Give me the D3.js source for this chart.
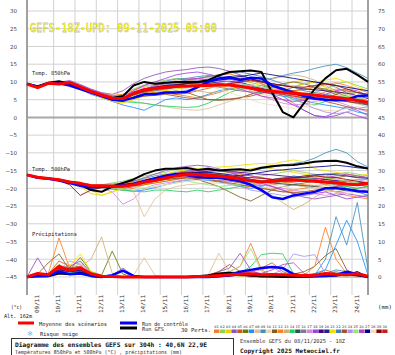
<!DOCTYPE html>
<html><head><meta charset="utf-8">
<script src="https://cdn.jsdelivr.net/npm/d3@7"></script>
<style>body{margin:0;background:#fff}svg{display:block}</style>
</head><body><svg id="chart" width="395" height="355"></svg>
<script>
// ---------------- DATA ----------------
const hours=[0,12,24,36,48,60,72,84,96,108,120,132,144,156,168,180,192,204,216,228,240,252,264,276,288,300,312,324,336,348,360,372,384];
const dates=["09/11","10/11","11/11","12/11","13/11","14/11","15/11","16/11","17/11","18/11","19/11","20/11","21/11","22/11","23/11","24/11"];
const dateHours=[6,30,54,78,102,126,150,174,198,222,246,270,294,318,342,366];
const gridHours=[30,54,78,102,126,150,174,198,222,246,270,294,318,342,366];
const leftTicks=[30,25,20,15,10,5,0,-5,-10,-15,-20,-25,-30,-35,-40,-45];
const rightTicks=[75,70,65,60,55,50,45,40,35,30,25,20,15,10,5,0];
const memberColors=["#f08030","#90d050","#f0d000","#9050c0","#c06010","#608000","#1e90ff","#e0c090","#4090c0","#e8d8b0","#806020","#ff8020","#d0b070","#20d060","#305050","#708090","#e080e0","#a040e0","#400080","#202090","#f0e000","#4682b4","#a0522d","#b090f0","#a0e080","#c040c0","#000090","#f0e0c0","#900000","#c02020"];

const mean850=[9.4,8.4,9.6,9.4,9.8,8.6,7.3,6.3,5.4,5.3,6.8,7.8,8.2,8.5,8.8,8.8,8.9,9.0,9.1,9.1,8.8,8.3,7.7,7.4,7.1,6.8,6.6,6.3,5.9,5.6,5.2,4.8,4.3];
const gfs850=[9.5,8.8,9.8,10.2,9.5,8.5,7.3,6.2,5.5,6.0,9.0,10.0,9.5,9.8,10.0,10.0,10.0,10.5,11.8,12.8,13.0,13.2,12.8,7.0,1.5,0.0,4.0,8.0,11.0,13.3,13.7,12.0,10.0];
const ctrl850=[9.5,8.6,9.6,9.6,9.0,8.0,7.0,6.0,5.0,4.8,5.5,6.5,6.5,7.0,7.0,7.2,8.5,10.0,11.0,11.3,10.5,11.2,11.0,9.0,8.0,7.0,6.0,5.3,5.0,4.8,5.0,6.0,6.2];
const mean500=[-16.2,-16.9,-17.2,-17.6,-18.2,-18.6,-19.3,-19.3,-19.4,-19.4,-19.0,-18.3,-17.8,-17.1,-16.5,-16.1,-16.2,-16.4,-16.6,-16.9,-17.4,-17.9,-18.2,-18.0,-17.7,-17.6,-17.8,-18.0,-18.2,-18.4,-18.8,-19.0,-18.6];
const gfs500=[-16.2,-17.0,-17.2,-17.6,-18.3,-19.0,-20.5,-21.0,-19.5,-18.5,-17.5,-16.0,-15.0,-14.5,-14.5,-14.3,-14.8,-14.5,-15.0,-14.8,-14.6,-15.0,-14.2,-13.8,-13.5,-13.4,-13.0,-12.5,-12.3,-12.2,-12.8,-13.8,-14.4];
const ctrl500=[-16.2,-17.0,-17.3,-17.8,-18.5,-19.3,-19.8,-19.5,-19.5,-19.2,-18.8,-18.0,-17.2,-16.5,-16.0,-16.3,-16.8,-17.0,-17.0,-17.5,-18.0,-19.0,-20.5,-22.5,-23.0,-22.0,-21.5,-21.0,-20.0,-20.0,-20.3,-20.8,-21.0];
const meanPrecip=[0,1.0,0.6,3.0,1.8,2.6,0.9,0.2,0.1,0,0,0,0,0,0,0,0.1,0.2,0.4,0.6,0.8,0.9,0.6,0.7,0.6,0.5,0.4,0.5,1.0,0.8,0.6,0.9,0.2];
const ctrlPrecip=[0,0.2,0.3,1.5,0.8,1.0,0.3,0,0.5,1.8,0.3,0,0,0,0,0,0,0,0.2,0.5,1.5,2.0,2.5,2.8,2.5,0.8,0.3,0.2,0.3,0.5,1.5,0.8,0];
const gfsPrecip=[0,0.3,0.2,1.0,0.8,1.2,0.3,0,0,0,0,0,0,0,0,0,0.2,0.5,1.0,1.2,0.8,0.5,0.3,0.2,0,0,0,0.2,0.3,0.5,0.8,0.5,0];

const perts850=[
[9.5,8.6,9.9,9.8,10.2,9.0,7.8,6.5,5.0,4.5,5.8,7.0,7.5,7.2,6.5,6.0,5.5,6.2,7.0,8.0,8.5,9.0,8.2,7.0,6.5,5.8,5.2,6.0,7.2,8.0,7.5,6.0,4.8],
[9.3,8.2,9.4,9.6,9.9,8.8,7.5,6.8,6.0,6.5,8.0,9.2,10.0,10.5,11.0,10.8,10.2,9.5,8.8,9.5,10.2,10.8,10.0,9.2,8.0,7.2,6.5,7.0,8.0,9.5,10.0,9.0,8.0],
[9.4,8.5,9.5,9.2,9.6,8.4,7.0,5.8,4.8,4.2,5.0,6.2,7.0,7.8,8.5,9.0,9.5,10.2,10.8,11.2,10.5,9.8,9.0,8.5,9.2,10.0,10.5,9.8,8.5,7.2,6.0,5.0,4.2],
[9.5,8.4,9.8,9.9,10.4,9.3,8.0,7.0,6.5,7.5,9.5,11.0,12.0,12.8,13.2,13.5,14.0,14.2,13.8,13.0,12.0,11.0,9.5,8.0,6.0,4.0,2.0,0.5,0.2,1.5,3.0,2.0,0.5],
[9.4,8.3,9.5,9.5,9.7,8.5,7.2,6.0,5.2,5.0,6.0,7.0,7.0,6.8,6.5,6.8,7.5,8.2,8.8,9.2,9.0,8.5,8.0,7.5,7.0,6.2,5.5,5.0,5.5,6.5,7.5,7.0,6.0],
[9.3,8.5,9.6,9.3,9.5,8.2,7.0,6.4,5.8,5.5,6.5,7.2,7.8,8.5,9.2,9.8,10.2,10.0,9.5,9.0,8.5,8.0,7.5,7.2,7.0,7.5,8.0,8.5,8.0,7.0,6.0,5.0,4.0],
[9.4,8.4,9.5,9.3,9.4,8.0,6.5,5.5,4.5,3.5,2.8,2.0,3.5,5.0,5.5,5.0,5.5,6.5,7.5,8.0,8.5,8.0,7.2,6.5,6.0,5.5,4.8,4.0,3.5,3.0,2.5,1.5,1.0],
[9.5,8.6,9.7,9.6,9.9,8.7,7.4,6.3,5.4,4.8,4.5,4.0,3.5,3.0,2.5,2.2,2.0,2.5,3.5,4.5,5.5,6.5,7.5,8.0,8.5,9.0,8.5,7.5,6.5,5.5,4.5,3.8,3.0],
[9.4,8.3,9.6,9.5,9.8,8.8,7.6,6.6,5.6,5.5,7.0,8.5,9.5,10.2,10.8,11.0,11.5,11.8,11.5,11.0,10.5,10.0,10.5,11.0,11.8,12.5,13.0,13.8,14.5,15.0,14.0,12.5,11.0],
[9.3,8.4,9.4,9.4,9.7,8.5,7.3,6.2,5.3,5.0,6.0,7.5,8.5,9.0,9.5,10.0,10.5,10.0,9.0,8.0,7.5,7.0,6.5,6.0,5.0,4.0,3.2,2.5,2.0,1.8,2.5,3.0,2.5],
[9.5,8.5,9.7,9.5,9.9,8.6,7.2,6.0,5.0,4.8,5.5,6.0,6.5,7.0,7.5,7.0,6.0,5.0,4.8,5.0,5.5,6.5,7.5,8.5,9.5,10.0,9.5,8.5,7.5,6.5,5.5,4.5,3.5],
[9.4,8.4,9.6,9.7,10.0,8.9,7.6,6.8,6.2,6.5,7.8,8.8,9.2,9.5,9.8,10.2,10.8,11.5,12.0,12.2,11.5,10.5,9.5,8.5,8.0,7.5,7.8,8.5,9.2,9.8,9.0,8.0,7.0],
[9.4,8.5,9.5,9.3,9.6,8.4,7.1,6.0,5.1,4.8,5.5,6.5,7.5,8.0,8.2,8.0,7.5,7.0,7.2,7.8,8.5,9.2,10.0,10.8,11.5,12.0,11.5,10.5,9.0,7.5,6.5,5.5,4.8],
[9.4,8.4,9.6,9.4,9.7,8.5,7.2,6.0,5.0,4.5,4.2,4.0,3.5,3.2,3.0,2.8,3.0,4.0,5.5,7.0,8.0,8.5,9.0,8.0,6.5,5.0,4.0,3.5,4.5,5.5,6.5,7.0,6.5],
[9.5,8.5,9.7,9.6,10.0,8.8,7.5,6.5,5.8,6.0,7.2,8.0,8.5,9.0,9.5,9.8,10.0,10.5,11.0,11.5,11.8,11.0,10.0,9.0,8.0,7.0,6.5,6.0,5.5,5.0,4.5,4.0,3.5],
[9.3,8.3,9.5,9.4,9.8,8.6,7.4,6.4,5.5,5.2,6.2,7.2,7.5,8.0,8.5,9.0,9.2,9.0,8.5,8.0,7.5,7.2,7.0,6.8,7.5,8.5,9.5,10.0,9.5,8.5,7.0,6.0,5.5],
[9.4,8.6,9.8,9.5,9.9,8.7,7.3,6.2,5.3,5.0,6.2,7.5,8.5,9.2,10.0,10.5,11.0,11.2,10.8,10.0,9.0,7.5,6.0,5.0,4.0,3.5,3.8,4.5,5.0,4.5,3.5,2.5,1.5],
[9.5,8.4,9.6,9.6,10.1,9.0,7.8,6.8,6.0,6.0,7.5,9.0,10.0,11.0,12.0,12.5,12.8,12.2,11.5,10.8,10.0,9.0,8.0,6.5,5.0,3.5,2.0,0.5,0.0,0.5,1.5,0.5,-0.5],
[9.4,8.5,9.5,9.3,9.5,8.3,7.0,5.8,4.8,4.5,5.8,7.0,8.0,8.8,9.2,9.5,9.8,10.2,10.5,10.8,11.0,10.8,10.2,9.5,9.0,8.5,8.0,7.8,7.5,7.2,6.8,6.0,5.2],
[9.4,8.4,9.6,9.5,9.8,8.6,7.3,6.3,5.4,5.3,6.5,7.5,8.0,8.2,8.5,8.8,9.0,9.5,10.0,10.2,9.8,9.0,8.2,7.5,7.0,6.5,6.0,5.8,5.5,5.2,5.0,4.5,4.0],
[9.3,8.3,9.4,9.2,9.5,8.3,6.8,5.5,4.5,4.0,5.0,6.0,6.8,7.5,8.0,8.5,9.0,9.2,9.0,8.5,8.0,7.8,7.5,7.5,8.0,8.8,9.5,10.0,10.5,11.0,10.0,8.5,7.5],
[9.5,8.6,9.7,9.6,10.0,8.8,7.4,6.4,5.5,5.6,7.0,8.0,8.8,9.5,10.0,10.5,11.0,11.5,12.0,12.5,12.8,12.2,11.5,10.5,9.5,8.5,7.5,7.0,6.5,6.0,5.5,5.2,5.0],
[9.4,8.4,9.5,9.4,9.8,8.5,7.2,6.2,5.2,4.8,5.5,6.0,6.2,6.5,6.0,5.5,5.2,5.0,5.0,5.2,5.5,6.0,6.8,7.5,8.0,7.5,6.5,5.5,4.5,3.8,3.0,2.5,2.0],
[9.4,8.5,9.6,9.5,9.9,8.7,7.4,6.4,5.6,5.4,6.5,7.8,8.5,9.0,9.5,10.0,10.5,10.8,10.5,10.0,9.5,9.0,8.5,8.0,7.0,5.5,4.0,2.5,1.5,1.0,1.5,2.5,3.0],
[9.3,8.4,9.5,9.4,9.7,8.5,7.2,6.2,5.3,5.0,6.0,7.0,7.8,8.5,9.0,9.0,8.8,8.5,8.8,9.2,9.5,9.0,8.5,8.0,7.5,7.0,6.5,6.0,5.5,5.5,6.0,5.5,5.0],
[9.5,8.5,9.7,9.6,10.0,8.8,7.5,6.5,5.5,5.5,6.8,8.0,9.0,9.8,10.5,10.8,11.0,10.5,9.8,9.0,8.0,7.0,6.0,5.5,5.0,4.5,4.8,5.5,6.5,7.5,8.0,7.5,6.0],
[9.4,8.4,9.5,9.4,9.8,8.6,7.3,6.2,5.2,5.0,6.5,7.8,8.5,9.0,9.2,9.5,9.8,10.0,10.5,11.0,11.5,12.0,12.5,12.0,11.5,11.0,10.5,10.0,9.5,9.0,8.5,8.0,7.5],
[9.4,8.5,9.6,9.5,9.9,8.7,7.4,6.5,5.7,5.8,7.0,8.5,9.5,10.0,10.5,10.0,9.5,9.0,8.0,7.0,6.0,5.0,4.0,3.5,3.0,2.5,3.0,4.0,5.0,6.0,6.5,6.0,5.0],
[9.5,8.4,9.6,9.5,9.8,8.6,7.3,6.3,5.4,5.2,6.5,7.5,8.0,8.5,9.0,9.5,9.5,9.2,9.0,9.5,10.0,10.5,10.0,9.5,9.0,8.5,8.5,9.0,9.5,9.0,8.0,7.0,6.5],
[9.4,8.5,9.6,9.4,9.7,8.5,7.2,6.2,5.3,5.1,6.3,7.2,7.8,8.2,8.5,8.8,9.0,9.2,9.5,9.2,8.8,8.0,7.2,6.8,6.5,6.0,5.5,5.2,5.0,4.8,4.5,4.2,3.8]
];
const perts500=[
[-16.2,-16.8,-17.0,-17.5,-18.0,-18.5,-19.0,-19.5,-20.0,-20.5,-20.0,-19.0,-18.0,-17.5,-17.0,-16.5,-16.8,-17.5,-18.0,-18.5,-19.0,-19.5,-20.0,-20.5,-21.0,-20.5,-20.0,-19.5,-20.0,-21.0,-22.0,-22.5,-23.0],
[-16.3,-17.0,-17.3,-17.8,-18.3,-18.8,-19.2,-19.0,-18.5,-18.0,-17.2,-16.5,-16.0,-15.5,-14.5,-14.0,-14.5,-15.5,-16.5,-17.0,-17.2,-17.0,-16.5,-16.0,-15.5,-15.0,-15.5,-16.0,-16.5,-16.0,-15.5,-16.0,-16.5],
[-16.1,-16.8,-17.2,-17.6,-18.5,-19.5,-21.5,-22.0,-21.0,-20.0,-19.5,-19.0,-18.5,-18.0,-17.5,-17.0,-16.8,-16.5,-16.0,-15.5,-15.0,-14.5,-14.0,-14.5,-15.0,-15.5,-16.0,-16.5,-17.0,-17.5,-18.0,-18.5,-18.0],
[-16.2,-17.0,-17.2,-17.8,-18.2,-18.6,-19.0,-19.2,-19.0,-18.5,-18.0,-17.0,-16.0,-15.0,-14.2,-13.8,-13.5,-13.8,-14.5,-15.5,-16.5,-17.5,-18.5,-19.5,-20.5,-21.5,-22.5,-23.0,-22.5,-22.0,-21.5,-22.0,-22.5],
[-16.2,-16.9,-17.3,-17.7,-18.3,-18.8,-19.5,-19.8,-20.0,-19.8,-19.5,-19.0,-18.5,-18.0,-17.5,-17.0,-17.2,-17.5,-17.8,-18.0,-18.5,-19.0,-19.2,-19.0,-18.5,-18.0,-17.5,-17.0,-17.5,-18.0,-18.5,-19.0,-19.5],
[-16.3,-17.0,-17.2,-17.5,-18.0,-18.5,-19.0,-19.5,-19.8,-20.0,-19.5,-18.5,-17.5,-16.8,-16.2,-15.8,-15.5,-15.8,-16.2,-16.8,-17.2,-17.5,-17.8,-18.0,-18.5,-19.0,-19.5,-20.0,-20.5,-21.0,-20.5,-20.0,-19.5],
[-16.2,-16.9,-17.1,-17.6,-18.2,-18.7,-19.4,-19.8,-20.2,-20.5,-20.8,-20.5,-19.8,-19.0,-18.2,-17.8,-17.5,-17.8,-18.2,-18.8,-19.5,-20.0,-19.5,-18.5,-17.5,-16.5,-17.0,-18.0,-19.0,-19.5,-20.0,-20.5,-21.0],
[-16.2,-16.8,-17.2,-17.6,-18.2,-18.6,-19.2,-19.5,-20.0,-20.5,-21.0,-28.0,-23.0,-20.5,-19.5,-19.0,-18.8,-18.5,-18.5,-18.8,-19.2,-19.5,-19.8,-20.0,-20.5,-21.0,-21.5,-21.0,-20.5,-20.0,-19.5,-20.0,-20.5],
[-16.2,-16.9,-17.2,-17.6,-18.1,-18.5,-19.0,-19.0,-18.8,-18.5,-18.0,-17.2,-16.5,-16.0,-15.5,-15.0,-15.2,-15.5,-15.8,-16.0,-15.5,-15.0,-14.5,-14.0,-13.5,-13.0,-12.5,-11.5,-10.0,-9.0,-10.0,-12.5,-14.0],
[-16.2,-16.9,-17.2,-17.6,-18.2,-18.6,-19.3,-19.4,-19.5,-19.6,-19.2,-18.5,-18.0,-17.5,-17.0,-16.8,-16.5,-16.2,-16.0,-15.8,-16.0,-16.5,-17.0,-17.8,-18.5,-19.0,-19.5,-20.0,-20.5,-21.0,-21.5,-21.0,-20.5],
[-16.3,-17.0,-17.3,-17.7,-18.2,-18.8,-19.3,-19.5,-19.6,-19.5,-19.0,-18.5,-18.0,-17.5,-17.2,-17.0,-17.5,-18.5,-19.5,-21.0,-22.5,-23.6,-22.0,-20.5,-19.5,-19.0,-18.5,-18.0,-17.5,-17.0,-16.5,-16.8,-17.0],
[-16.2,-16.8,-17.1,-17.5,-18.0,-18.5,-19.2,-19.2,-19.0,-18.8,-18.2,-17.5,-17.0,-16.5,-16.0,-15.5,-15.0,-14.8,-15.0,-15.5,-16.0,-16.5,-17.0,-17.5,-18.0,-18.5,-19.0,-19.2,-19.0,-18.5,-18.0,-17.5,-17.5],
[-16.2,-16.9,-17.2,-17.6,-18.2,-18.7,-19.3,-19.4,-19.4,-19.3,-19.0,-18.5,-18.0,-17.5,-17.0,-16.8,-17.0,-17.5,-18.0,-18.5,-19.0,-19.5,-20.5,-22.0,-24.0,-26.0,-24.5,-22.5,-21.0,-20.0,-19.5,-19.0,-18.5],
[-16.2,-17.0,-17.3,-17.8,-18.4,-19.0,-19.8,-20.0,-20.2,-20.5,-20.8,-21.0,-20.5,-20.5,-20.8,-21.0,-20.5,-21.0,-20.5,-20.0,-19.5,-19.0,-18.5,-18.0,-17.5,-17.0,-17.5,-18.0,-18.5,-19.0,-19.5,-20.0,-19.5],
[-16.2,-16.9,-17.2,-17.6,-18.2,-18.6,-19.3,-19.3,-19.2,-19.0,-18.5,-17.8,-17.2,-16.5,-16.0,-15.5,-15.8,-16.0,-16.2,-16.5,-17.0,-17.5,-18.0,-18.5,-18.8,-19.0,-19.2,-19.5,-19.8,-20.0,-20.2,-20.5,-21.0],
[-16.1,-16.8,-17.1,-17.5,-18.1,-18.5,-19.1,-19.2,-19.3,-19.2,-18.8,-18.2,-17.5,-17.0,-16.5,-16.2,-16.0,-16.2,-16.5,-17.0,-17.5,-18.0,-18.5,-18.5,-18.0,-17.5,-17.0,-16.5,-16.0,-15.8,-16.0,-16.5,-17.0],
[-16.2,-16.9,-17.2,-17.6,-18.2,-18.8,-19.5,-20.0,-21.0,-24.5,-23.0,-20.0,-19.0,-18.5,-18.0,-17.5,-17.0,-16.8,-17.0,-17.5,-18.0,-18.5,-19.0,-19.5,-20.0,-20.5,-21.0,-21.5,-22.0,-21.5,-21.0,-20.5,-21.0],
[-16.3,-17.0,-17.3,-17.7,-18.3,-18.8,-19.5,-19.6,-19.8,-20.0,-19.5,-18.5,-17.5,-16.8,-16.0,-15.5,-15.0,-14.8,-15.0,-15.5,-16.5,-17.5,-18.5,-19.5,-20.5,-21.5,-22.0,-21.5,-21.0,-22.0,-23.0,-22.5,-22.0],
[-16.2,-16.9,-17.2,-17.6,-18.2,-18.6,-19.2,-19.3,-19.3,-19.2,-18.8,-18.0,-17.2,-16.5,-16.0,-15.8,-15.5,-15.2,-15.0,-15.2,-15.5,-15.8,-16.0,-16.2,-16.5,-16.8,-17.0,-17.2,-17.5,-17.8,-18.0,-18.2,-18.5],
[-16.2,-16.8,-17.2,-17.6,-18.2,-18.6,-19.3,-19.3,-19.4,-19.3,-18.8,-18.0,-17.5,-16.8,-16.2,-15.8,-16.0,-16.2,-16.5,-16.8,-17.2,-17.8,-18.2,-18.0,-17.5,-17.0,-16.5,-16.2,-16.0,-16.2,-16.5,-17.0,-17.2],
[-16.2,-16.9,-17.2,-17.6,-18.3,-19.0,-20.5,-22.0,-21.0,-20.0,-19.0,-18.0,-17.0,-16.0,-15.2,-14.8,-14.5,-14.2,-14.0,-13.8,-13.5,-13.2,-13.0,-13.2,-12.5,-12.0,-12.5,-14.5,-15.0,-15.5,-16.0,-16.5,-16.0],
[-16.2,-16.9,-17.2,-17.6,-18.2,-18.7,-19.3,-19.5,-19.6,-19.5,-19.0,-18.2,-17.5,-17.0,-16.5,-16.0,-16.2,-16.5,-17.0,-17.5,-18.0,-18.2,-18.0,-17.5,-17.0,-16.8,-17.0,-17.5,-18.0,-19.0,-20.0,-21.0,-22.0],
[-16.2,-17.0,-17.3,-17.8,-18.4,-19.2,-20.0,-19.8,-19.5,-19.2,-18.8,-18.2,-17.8,-17.5,-17.2,-17.0,-17.2,-17.5,-18.0,-18.5,-19.0,-19.5,-20.0,-20.5,-21.0,-21.2,-21.0,-20.5,-20.0,-19.5,-19.0,-18.8,-18.5],
[-16.2,-16.9,-17.2,-17.6,-18.2,-18.6,-19.2,-19.3,-19.4,-19.3,-19.0,-18.5,-18.0,-17.0,-16.0,-15.5,-15.8,-16.5,-17.5,-18.5,-19.5,-20.5,-21.0,-21.5,-22.0,-22.5,-22.0,-21.0,-20.0,-19.0,-18.5,-18.0,-17.5],
[-16.2,-16.9,-17.2,-17.6,-18.2,-18.6,-19.3,-19.4,-19.8,-20.2,-20.5,-20.0,-19.5,-19.0,-18.5,-18.0,-18.5,-19.0,-19.5,-19.2,-18.8,-18.5,-18.2,-18.0,-17.8,-17.5,-17.2,-17.0,-17.2,-17.5,-18.0,-18.5,-19.0],
[-16.3,-17.0,-17.3,-17.7,-18.2,-18.7,-19.3,-19.4,-19.4,-19.2,-18.8,-18.0,-17.2,-16.5,-15.8,-15.2,-14.8,-14.5,-14.8,-15.2,-15.8,-16.5,-17.0,-17.5,-18.0,-18.2,-18.0,-17.5,-17.0,-16.5,-16.0,-16.5,-17.0],
[-16.2,-16.9,-17.2,-17.6,-18.2,-18.6,-19.3,-19.3,-19.3,-19.2,-18.8,-18.2,-17.5,-16.8,-16.2,-15.8,-15.5,-15.5,-15.8,-16.2,-16.5,-16.0,-15.5,-15.0,-14.8,-14.5,-14.2,-14.0,-13.8,-13.5,-13.8,-14.2,-14.5],
[-16.2,-16.8,-17.1,-17.5,-18.0,-18.4,-19.0,-19.1,-19.2,-19.4,-19.6,-19.8,-19.5,-19.0,-18.5,-18.0,-17.8,-17.5,-17.2,-17.0,-17.5,-18.0,-18.5,-19.0,-19.5,-20.0,-20.5,-20.0,-19.5,-19.0,-18.5,-18.0,-18.0],
[-16.2,-16.9,-17.3,-17.8,-19.0,-22.0,-20.5,-19.8,-19.5,-19.0,-18.5,-17.8,-17.0,-16.2,-15.8,-15.5,-15.8,-16.0,-16.2,-16.5,-16.8,-17.0,-17.2,-17.5,-17.2,-17.0,-16.8,-16.5,-16.8,-17.0,-17.5,-18.0,-18.5],
[-16.2,-16.9,-17.2,-17.6,-18.2,-18.6,-19.3,-19.3,-19.4,-19.3,-19.0,-18.4,-17.9,-17.2,-16.6,-16.2,-16.3,-16.5,-16.8,-17.0,-17.5,-18.0,-18.2,-18.2,-18.0,-17.8,-18.0,-18.2,-18.5,-18.8,-19.0,-19.2,-19.0]
];
const pertsPrecip=[
[0,0.5,0.3,2.5,1.5,2.0,0.5,0,0,0,0,0,0,0,0,0,0.3,0.5,1.0,1.5,3.0,9.5,2.0,0.5,0.3,0,0,0.2,0.5,0.3,0,0.2,0],
[0,0.8,1.0,3.0,2.0,4.0,1.0,0.3,0,0,0,0,0,0,0,0,0,0.2,0.8,1.5,1.0,0.5,0.3,0,0,0,0.2,0.3,0.5,0.2,0,0,0],
[0,1.0,0.5,2.0,3.5,2.5,0.8,0,0,0,0,0,0,0,0,0,0,0,0.3,0.5,0.8,0.5,0.2,0,0,0.3,0.5,0.2,0,0,0,0,0],
[0,5.4,0.5,1.5,2.5,3.0,1.0,0.2,0,0,0,0,0,0,0,0,0,0.5,1.5,2.5,6.7,2.0,0.5,0.3,0,0,0,0,0.3,0.8,0.5,0.2,0],
[0,0.3,0.8,4.5,3.0,2.0,0.5,0,0,0,0,0,0,0,0,0,0,0,0.2,0.5,1.0,1.5,2.5,4.0,1.5,0.5,0.3,0.5,2.0,1.0,0.5,0,0],
[0,0.5,0.4,3.5,2.0,5.5,1.5,0.5,7.3,0.8,0,0,0,0,0,0,0,0,0.3,0.5,0.3,0,0,0.2,0.5,0.3,0,0,0,0,0,0,0],
[0,0.6,0.3,1.8,1.2,1.5,0.3,0,0,0,0,0,0,0,0,0,0,0.2,0.5,0.8,1.0,0.5,0.2,0,0,0.3,0.5,1.0,2.0,9.0,16.0,10.0,0.5],
[0,0.4,0.6,2.2,1.8,2.5,0.8,0.2,0,0,0.5,5.4,0.5,0,0,0,0,0.5,6.7,1.5,0.5,0.3,0,0,0,0,0.2,0.5,0.3,0,0,0,0],
[0,0.7,0.5,2.8,1.5,2.0,0.6,0,0,0,0,0,0,0,0,0,0,0,0.3,0.5,0.8,0.5,0.2,0,0,0,0.3,0.5,5.0,17.0,9.0,21.0,2.0],
[0,0.5,0.8,3.2,2.5,3.5,1.0,0.3,0,0,0,0,0,0,0,0,0,0.2,0.5,1.0,0.8,0.5,0.3,0,0,0,0,0,0,0.2,0.5,0.3,0],
[0,0.8,4.0,6.5,2.0,1.5,0.5,0,0,0,0,0,0,0,0,0,0,0,0.3,0.8,1.5,1.0,0.5,0.3,0.5,0.8,1.5,3.0,6.0,8.0,2.0,0.5,0],
[0,0.5,1.0,11.0,2.5,2.0,0.5,0,0,0,0,0,0,0,0,0,0,0.3,0.8,1.2,1.5,0.8,0.3,0,0,0.2,0.5,3.0,14.0,5.0,1.0,0.3,0],
[0,0.3,0.5,2.0,1.5,3.0,5.0,11.3,1.0,0,0,0,0,0,0,0,0,0,0.2,0.5,0.3,0,0,0,0,0,0,0.2,0.3,0,0,0,0],
[0,0.4,0.3,1.5,1.0,2.0,0.5,0,0,0,0,0,0,0,0,0,0,0,0.2,0.5,1.0,3.0,6.3,6.7,6.5,1.0,0.3,0.2,0,0,0,0,0],
[0,0.6,0.5,2.5,2.0,1.5,0.3,0,0,0,0,0,0,0,0,0,0,0,0,0.3,0.5,0.8,0.5,0.3,0.2,0,0,0,0.3,0.5,0.3,0,0],
[0,0.5,0.7,3.0,1.8,2.2,0.5,0,0,0,0,0,0,0,0,0,0,0,0.3,0.5,0.8,0.5,0.3,0,0,0,0,0.3,0.8,1.5,0.8,0.3,0],
[0,0.4,0.5,2.0,4.5,3.5,1.0,0.2,0,0,0,0,0,0,0,0,0,0.3,0.5,0.8,1.0,1.5,2.0,3.0,1.0,0.5,0.3,0,0,0,0,0,0],
[0,0.6,0.3,2.5,3.0,4.5,1.2,0.3,0.5,2.5,0.3,0,0,0,0,0,0,0,0.2,0.5,0.8,0.5,0.3,0.2,0,0,0,0,0,0.5,1.0,0.5,0],
[0,0.5,0.5,1.5,2.0,2.5,0.5,0,0,0,0,0,0,0,0,0,0,0,0.3,0.5,0.5,0.3,0,0,0,0,0.3,0.5,0.5,0.3,0.5,1.0,0],
[0,0.4,0.6,2.0,1.5,1.8,0.4,0,0,0,0,0,0,0,0,0,0,0,0.2,0.3,0.5,0.3,0.2,0,0,0,0,0.2,0.3,0.5,0.8,1.5,0],
[0,0.5,0.4,2.0,3.0,6.5,1.5,0.3,0,0,0,0,0,0,0,0,0,0.2,0.5,0.8,1.0,0.5,0.2,0,0,0,0,0,0,0,0,0,0],
[0,0.5,0.5,2.5,2.0,2.0,0.5,0,0,0,0,0,0,0,0,0,0,0,0.2,0.5,0.5,0.3,0,0,0,0,0,0.5,1.0,2.0,1.5,1.0,0],
[0,0.3,0.8,3.0,2.5,3.0,0.8,0.2,0,0,0,0,0,0,0,0,0,0.5,1.5,3.5,1.5,0.5,0.3,0.2,0.5,1.0,0.5,0.3,0.5,1.0,0.5,0.2,0],
[0,0.5,0.5,2.0,1.5,2.5,0.8,0,0,0,0,0,0,0,0,0,0,0,0.3,0.5,0.8,1.0,0.5,0.8,2.0,6.5,5.8,6.3,1.0,0.3,0,0,0],
[0,0.6,0.4,2.8,2.0,3.0,0.8,0.2,0,0,0,0,0,0,0,0,0,0.3,0.8,1.5,3.0,8.0,1.5,0.5,0.2,0,0,0,0,0,0,0,0],
[0,0.4,0.6,2.2,1.8,2.0,0.5,0,0,0,0,0,0,0,0,0,0,0,0.2,0.5,1.0,1.5,1.0,2.0,3.5,4.0,1.0,0.3,0.5,1.0,0.5,0.3,0],
[0,0.5,0.5,2.0,1.5,2.0,0.5,0,0,0,0,0,0,0,0,0,0,0,0.2,0.3,0.5,0.3,0.2,0,0,0,0,0.2,0.5,0.8,0.5,1.5,0],
[0,0.4,0.5,2.5,2.0,2.5,0.6,0,0,0,0,0,0,0,0,0,0,0,0.5,1.0,0.8,0.5,0.3,0,0,0,0,0,0,0,0,0,0],
[0,0.5,0.6,2.0,2.5,2.0,0.5,0,0,0,0,0,0,0,0,0,0,0,0.2,0.5,0.5,0.3,0,0,0,0.3,0.5,0.8,0.5,0.3,0.5,0.5,0],
[0,0.5,0.5,2.2,1.8,2.2,0.5,0,0,0,0,0,0,0,0,0,0,0,0.2,0.3,0.5,0.3,0.2,0,0,0,0,0.3,0.5,0.3,0.5,0.3,0]
];

// ---------------- DRAWING ----------------
const svg=d3.select('#chart');
const MONO='DejaVu Sans Mono';
const x=d3.scaleLinear().domain([0,384]).range([27,368]);
const yL=d3.scaleLinear().domain([-50,30]).range([294.7,11]);
const yR=d3.scaleLinear().domain([-5,75]).range([294.7,11]);

svg.append('rect').attr('width',395).attr('height',355).attr('fill','#fff');

// grid
const grid=svg.append('g');
grid.selectAll('line.v').data(gridHours).join('line')
  .attr('x1',d=>x(d)).attr('x2',d=>x(d)).attr('y1',0).attr('y2',295)
  .attr('stroke','#d2d2d2').attr('stroke-width',1);
grid.selectAll('line.h').data(leftTicks).join('line')
  .attr('x1',27).attr('x2',368).attr('y1',d=>yL(d)).attr('y2',d=>yL(d))
  .attr('stroke',d=>d===0?'#a8a8a8':'#d2d2d2').attr('stroke-width',d=>d===0?2:1);
[27,368].forEach(v=>svg.append('line').attr('x1',v).attr('x2',v).attr('y1',0).attr('y2',295)
  .attr('stroke','#a0a0a0').attr('stroke-width',2));

// axes
const axL=svg.append('g').attr('transform','translate(18,0)')
  .call(d3.axisLeft(yL).tickValues(leftTicks).tickSize(0).tickPadding(1));
axL.select('.domain').remove();
axL.selectAll('text').attr('font-family','DejaVu Sans').attr('font-size',5.5).attr('fill','#444');
const axR=svg.append('g').attr('transform','translate(377,0)')
  .call(d3.axisRight(yR).tickValues(rightTicks).tickSize(0).tickPadding(1));
axR.select('.domain').remove();
axR.selectAll('text').attr('font-family','DejaVu Sans').attr('font-size',5.5).attr('fill','#444');
const axB=svg.append('g').attr('transform','translate(0,313)')
  .call(d3.axisBottom(x).tickValues(dateHours).tickFormat((d,i)=>dates[i]).tickSize(0));
axB.select('.domain').remove();
axB.selectAll('text').attr('x',0).attr('y',0).attr('dy',0).attr('text-anchor','start')
  .attr('transform','translate(6,0) rotate(-90)')
  .attr('font-family',MONO).attr('font-size',5.8).attr('fill','#333')
  .attr('textLength',18).attr('lengthAdjust','spacingAndGlyphs');

// series
const lineL=d3.line().x((d,i)=>x(hours[i])).y(d=>yL(d));
const lineR=d3.line().x((d,i)=>x(hours[i])).y(d=>yR(d));
const gM=svg.append('g').attr('fill','none').attr('stroke-linejoin','round');
function drawMembers(data,gen){
  gM.append('g').selectAll('path').data(data).join('path')
    .attr('d',d=>gen(d)).attr('stroke',(d,i)=>memberColors[i]).attr('stroke-width',0.85);
}
drawMembers(perts850,lineL);
drawMembers(perts500,lineL);
drawMembers(pertsPrecip,lineR);
function drawMain(d,gen,color,w){
  gM.append('path').attr('d',gen(d)).attr('stroke',color).attr('stroke-width',w);
}
drawMain(gfs850,lineL,'#000',2);
drawMain(gfs500,lineL,'#000',2);
drawMain(gfsPrecip,lineR,'#000',2);
drawMain(ctrl850,lineL,'#0000ff',2.5);
drawMain(ctrl500,lineL,'#0000ff',2.5);
drawMain(ctrlPrecip,lineR,'#0000ff',2.5);
drawMain(mean850,lineL,'#ff0000',3);
drawMain(mean500,lineL,'#ff0000',3);
drawMain(meanPrecip,lineR,'#ff0000',3);

// texts helper
function txt(s,xx,yy,size,opts={}){
  const t=svg.append('text').attr('x',xx).attr('y',yy).text(s)
    .attr('font-family',opts.family||MONO).attr('font-size',size)
    .attr('fill',opts.fill||'#222');
  if(opts.bold) t.attr('font-weight','bold');
  if(opts.len) t.attr('textLength',opts.len).attr('lengthAdjust','spacingAndGlyphs');
  return t;
}
// title
txt('GEFS-18Z-UPD: 09-11-2025 05:00',30,32,11.5,{len:187,fill:'#f2ee00'})
  .attr('stroke','#8a8a20').attr('stroke-width',0.3).attr('paint-order','stroke');

txt('Temp. 850hPa',32,75,5.5,{len:38});
txt('Temp. 500hPa',32,171,5.5,{len:38});
txt('Précipitations',32,236,5.5,{len:45});
txt('(°c)',11,309,5.5,{len:11});
txt('Alt. 162m',4,318,5.5,{len:28});
txt('(mm)',378,309,5.5,{len:14});

// legend
svg.append('line').attr('x1',18).attr('x2',34).attr('y1',323).attr('y2',323).attr('stroke','#ff0000').attr('stroke-width',3);
txt('Moyenne des scénarios',39,325.5,5.5,{len:68});
svg.append('line').attr('x1',120).attr('x2',137).attr('y1',323).attr('y2',323).attr('stroke','#0000ff').attr('stroke-width',3);
txt('Run de contrôle',142,325.5,5.5,{len:46});
svg.append('line').attr('x1',120).attr('x2',137).attr('y1',328).attr('y2',328).attr('stroke','#000').attr('stroke-width',3);
txt('Run GFS',142,330.5,5.5,{len:22});
txt('30 Perts.',181,332,5.5,{len:30});
svg.append('text').attr('x',27).attr('y',336).text('❄').attr('font-family','DejaVu Sans').attr('font-size',7).attr('fill','#70b8e8');
txt('Risque neige',40,335.5,5.5,{len:38});

const sw=svg.append('g');
sw.selectAll('rect').data(memberColors).join('rect')
  .attr('x',(d,i)=>214+i*5.8).attr('y',329.5).attr('width',5.3).attr('height',3.5).attr('fill',d=>d);
sw.selectAll('text').data(memberColors).join('text')
  .attr('x',(d,i)=>214.3+i*5.8).attr('y',327.5).text((d,i)=>String(i+1).padStart(2,'0'))
  .attr('font-family',MONO).attr('font-size',3.3).attr('fill','#333')
  .attr('textLength',4.6).attr('lengthAdjust','spacingAndGlyphs');

// info box
svg.append('rect').attr('x',11.5).attr('y',338.5).attr('width',222).attr('height',20)
  .attr('fill','#fff').attr('stroke','#333').attr('stroke-width',1);
txt('Diagramme des ensembles GEFS sur 304h : 40,6N 22,9E',15,346.5,6.2,{bold:true,len:192,fill:'#111'});
txt('Températures 850hPa et 500hPa (°C) , précipitations (mm)',15,353.8,5.3,{len:167,fill:'#333'});
txt('Ensemble GEFS du 08/11/2025 - 18Z',240,342.5,5.5,{len:105,fill:'#333'});
txt('Copyright 2025 Meteociel.fr',240,353,6,{bold:true,len:100,fill:'#111'});
</script>
</body></html>
